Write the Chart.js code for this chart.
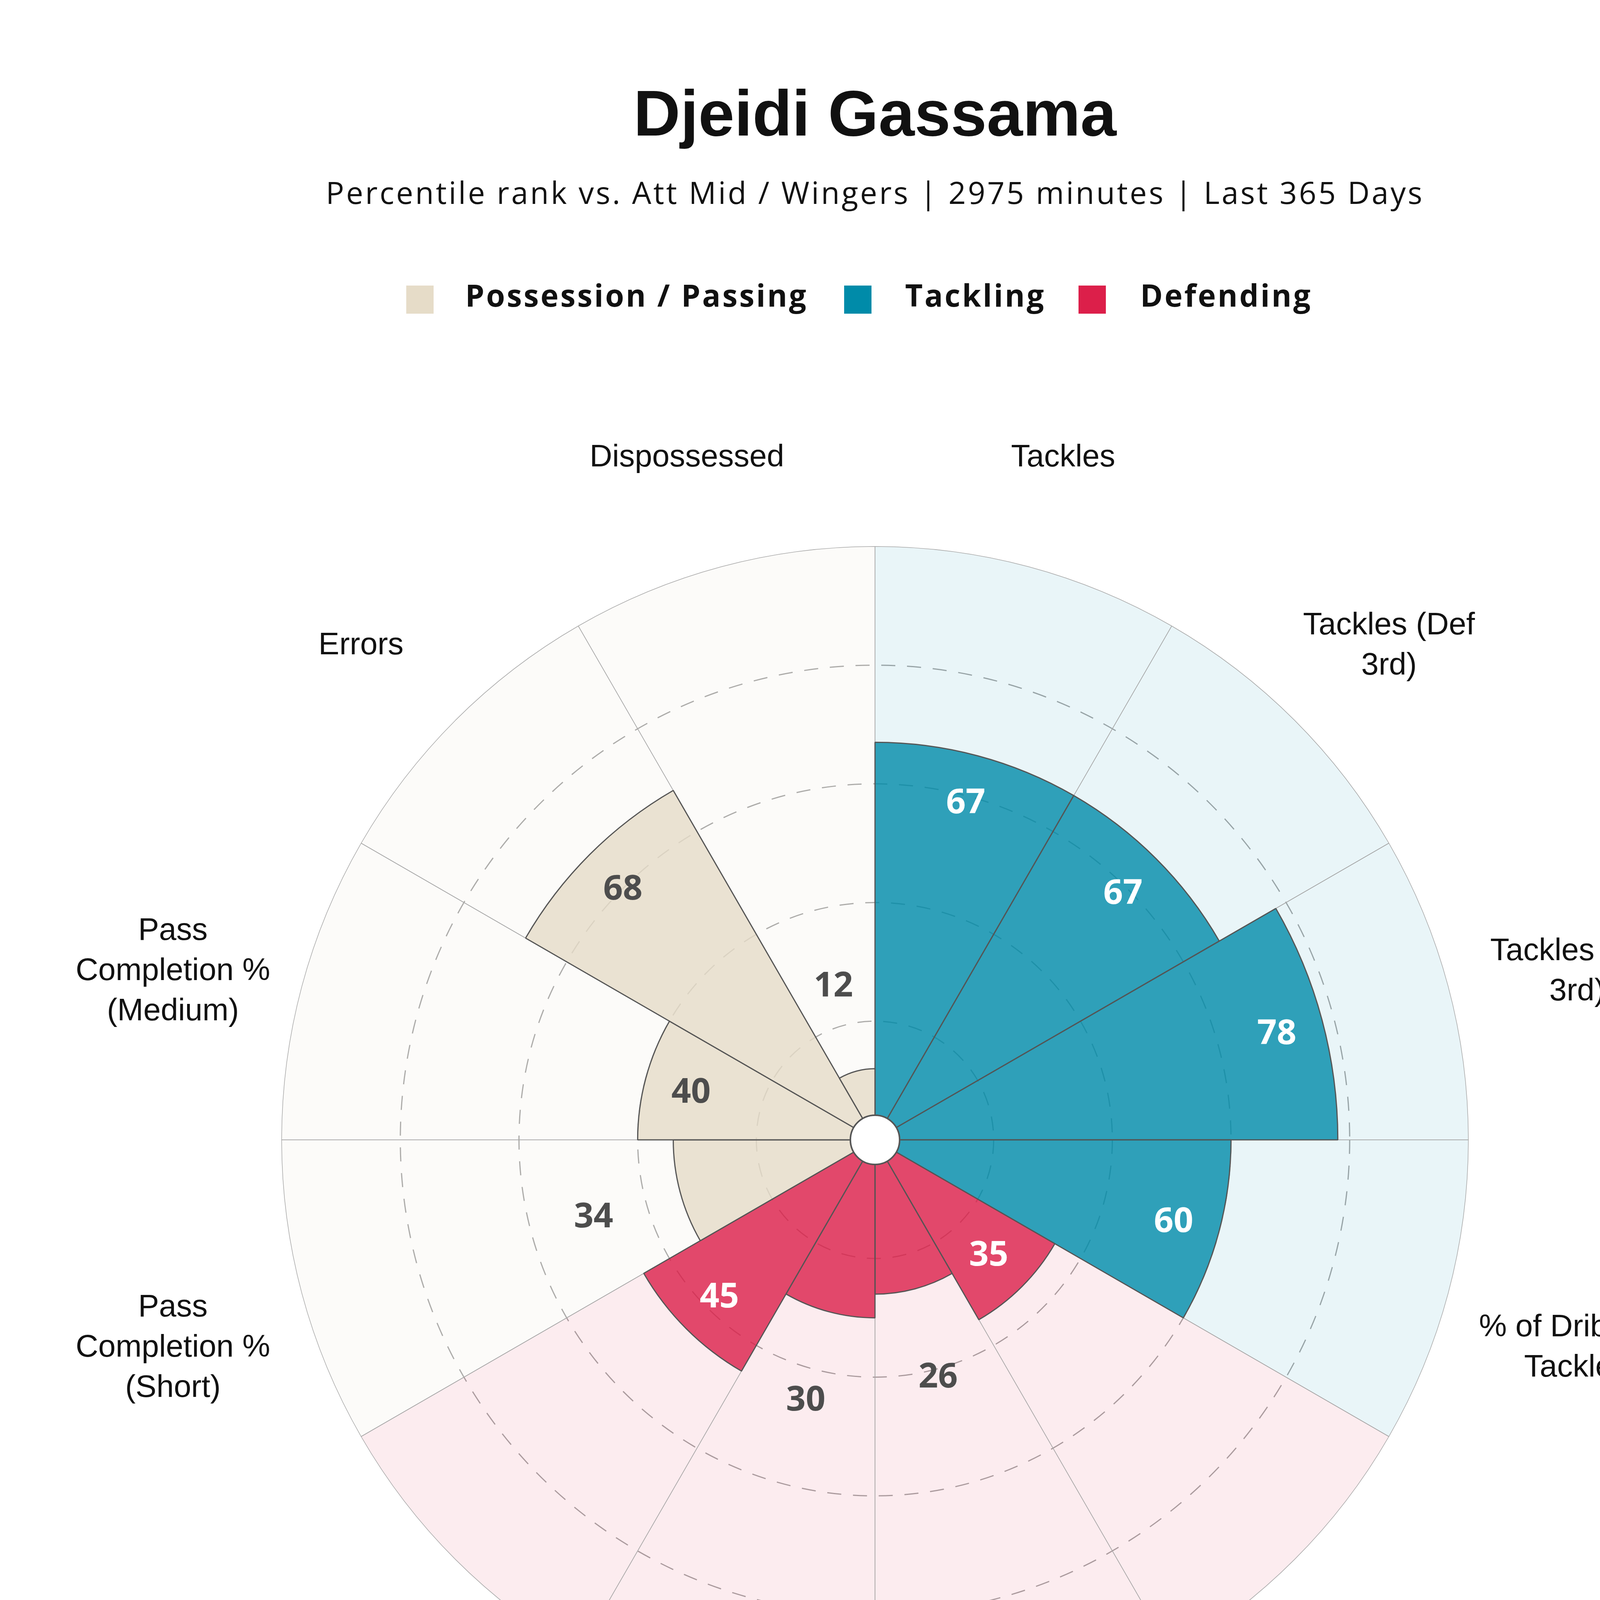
<!DOCTYPE html>
<html>
<head>
<meta charset="utf-8">
<script src="https://cdn.jsdelivr.net/npm/chart.js@4.4.0/dist/chart.umd.min.js"></script>
<style>
  html, body { margin:0; padding:0; background:#fff; }
  body { width:4480px; height:5120px; position:relative; overflow:hidden; }
  #c { position:absolute; left:0; top:0; width:4480px; height:5120px; }
  .t { position:absolute; white-space:nowrap; line-height:1; }
  #title { left:0; width:4480px; text-align:center; top:207px; font-family:"Liberation Sans", Arial, sans-serif; font-weight:bold; font-size:166px; color:#111; }
  #subtitle { left:0; width:4480px; text-align:center; top:453px; font-family:"Open Sans", sans-serif; font-size:78px; color:#111; letter-spacing:5px; }
  .lg { position:absolute; top:731px; height:72px; width:70px; }
  .lgt { position:absolute; top:716px; font-family:"Open Sans", sans-serif; font-weight:bold; font-size:78px; color:#111; letter-spacing:4.5px; line-height:1; white-space:nowrap; }
  #template { right:71px; top:4638px; font-family:"Open Sans", sans-serif; font-size:80px; color:#666; letter-spacing:4px; }
  #box { position:absolute; left:3303px; top:4772px; width:1137px; height:183px; background:#366a9f; }
  #boxt { position:absolute; left:3303px; width:1137px; text-align:center; top:4807px; font-family:"Open Sans", sans-serif; font-size:94px; color:#fff; letter-spacing:4px; line-height:1; white-space:nowrap; }
  #credit { right:51px; top:4995px; font-family:"Open Sans", sans-serif; font-size:74px; color:#555; letter-spacing:4px; }
  #logo { position:absolute; left:0; top:4800px; }
</style>
</head>
<body>
<canvas id="c" width="4480" height="5120"></canvas>
<div class="t" id="title">Djeidi Gassama</div>
<div class="t" id="subtitle">Percentile rank vs. Att Mid / Wingers | 2975 minutes | Last 365 Days</div>
<div id="legend"></div>
<div class="t" id="template">Template</div>
<div id="box"></div>
<div id="boxt">Defensive Midfielder</div>
<div class="t" id="credit">twitter: @fbcharts | Data: Opta/FBref</div>
<svg id="logo" width="1500" height="320" viewBox="0 4800 1500 320" xmlns="http://www.w3.org/2000/svg">
  <g fill="none" stroke="#5a5a5a">
    <rect x="85" y="4876" width="230" height="162" stroke-width="7"/>
    <line x1="199" y1="4876" x2="199" y2="5038" stroke-width="5"/>
    <ellipse cx="199" cy="4956" rx="30" ry="32" stroke-width="8"/>
  </g>
  <g fill="#5a5a5a" stroke="#5a5a5a" stroke-width="5" font-family="Liberation Sans, Arial, sans-serif" font-weight="bold" font-size="236">
    <text x="379" y="5041" textLength="42" lengthAdjust="spacingAndGlyphs">F</text>
    <text x="467" y="5041" textLength="63" lengthAdjust="spacingAndGlyphs">B</text>
    <text x="577" y="5041" textLength="57" lengthAdjust="spacingAndGlyphs">C</text>
    <text x="680" y="5041" textLength="63" lengthAdjust="spacingAndGlyphs">H</text>
    <text x="794" y="5041" textLength="62" lengthAdjust="spacingAndGlyphs">A</text>
    <text x="909" y="5041" textLength="65" lengthAdjust="spacingAndGlyphs">R</text>
    <text x="1014" y="5041" textLength="62" lengthAdjust="spacingAndGlyphs">T</text>
    <text x="1115" y="5041" textLength="62" lengthAdjust="spacingAndGlyphs">S</text>
  </g>
  <text x="1193" y="5047" fill="#5a5a5a" font-family="Liberation Sans, Arial, sans-serif" font-style="italic" font-size="84" textLength="199" lengthAdjust="spacingAndGlyphs">.com</text>
</svg>
<script>
// ---- data ----
const categories = [
  'Tackles',
  ['Tackles (Def', '3rd)'],
  ['Tackles (Mid', '3rd)'],
  ['% of Dribblers', 'Tackled'],
  'Interceptions',
  'Shots Blocked',
  'Clearances',
  ['% of Aerials', 'Won'],
  ['Pass', 'Completion %', '(Short)'],
  ['Pass', 'Completion %', '(Medium)'],
  'Errors',
  'Dispossessed'
];
const groups = ['Tackling','Tackling','Tackling','Tackling','Defending','Defending','Defending','Defending','Possession / Passing','Possession / Passing','Possession / Passing','Possession / Passing'];
const percentiles = [67, 67, 78, 60, 35, 26, 30, 45, 34, 40, 68, 12];
const fullScale = [100, 100, 100, 100, 100, 100, 100, 100, 100, 100, 100, 100];
const groupNames = ['Possession / Passing', 'Tackling', 'Defending'];
const groupColors = { 'Possession / Passing': [230,220,200], 'Tackling': [0,139,169], 'Defending': [220,31,74] };
const radialTicks = [0, 20, 40, 60, 80, 100];

// ---- legend (HTML) ----
const legendPos = [
  { box: 1040, text: 1191 },
  { box: 2161, text: 2317 },
  { box: 2761, text: 2919 }
];
const legendEl = document.getElementById('legend');
groupNames.forEach((g, i) => {
  const c = groupColors[g];
  const b = document.createElement('div');
  b.className = 'lg';
  b.style.left = legendPos[i].box + 'px';
  b.style.background = `rgb(${c[0]},${c[1]},${c[2]})`;
  legendEl.appendChild(b);
  const t = document.createElement('div');
  t.className = 'lgt';
  t.style.left = legendPos[i].text + 'px';
  t.textContent = g;
  legendEl.appendChild(t);
});

const rgba = (g, a) => { const c = groupColors[g]; return `rgba(${c[0]},${c[1]},${c[2]},${a})`; };

// ---- label plugin ----
const labelPlugin = {
  id: 'pizzaLabels',
  afterDatasetsDraw(chart) {
    const ctx = chart.ctx;
    const scale = chart.scales.r;
    const n = categories.length;
    const half = Math.PI / n;
    const R = scale.drawingArea;
    // centre hole
    ctx.save();
    ctx.beginPath();
    ctx.arc(scale.xCenter, scale.yCenter, R * 0.0415, 0, Math.PI * 2);
    ctx.fillStyle = '#ffffff';
    ctx.fill();
    ctx.lineWidth = 4;
    ctx.strokeStyle = '#555555';
    ctx.stroke();
    ctx.restore();

    // value labels
    ctx.save();
    ctx.textAlign = 'center';
    ctx.textBaseline = 'alphabetic';
    ctx.font = 'bold 88px "Open Sans", sans-serif';
    percentiles.forEach((v, i) => {
      const r = scale.getDistanceFromCenterForValue(v);
      const inside = v >= 35;
      const d = inside ? r - R * 0.079 : r + R * 0.151;
      const p = scale.getPointPosition(i, d, half);
      let color = '#4d4d4d';
      if (inside && groups[i] !== 'Possession / Passing') color = '#ffffff';
      ctx.fillStyle = color;
      ctx.fillText(String(v), p.x, p.y + 31);
    });
    ctx.restore();

    // category labels
    ctx.save();
    ctx.textAlign = 'center';
    ctx.textBaseline = 'alphabetic';
    ctx.font = '80px "Liberation Sans", Arial, sans-serif';
    ctx.fillStyle = '#111111';
    const lineH = 103;
    categories.forEach((lab, i) => {
      const lines = Array.isArray(lab) ? lab : [lab];
      const p = scale.getPointPosition(i, R * 1.225, half);
      const cy = p.y + 45;
      const y0 = cy - (lines.length - 1) * lineH / 2;
      lines.forEach((ln, k) => ctx.fillText(ln, p.x, y0 + k * lineH + 28));
    });
    ctx.restore();
  }
};

new Chart(document.getElementById('c'), {
  type: 'polarArea',
  data: {
    labels: categories,
    datasets: [
      {
        data: percentiles,
        backgroundColor: groups.map(g => rgba(g, 0.8)),
        borderColor: '#555555',
        borderWidth: 3
      },
      {
        data: fullScale,
        backgroundColor: groups.map(g => rgba(g, g === 'Possession / Passing' ? 0.1 : 0.085)),
        borderColor: '#a8a8a8',
        borderWidth: 1.5
      }
    ]
  },
  options: {
    responsive: false,
    devicePixelRatio: 1,
    animation: false,
    events: [],
    layout: { padding: { left: 721, right: 721, top: 1399, bottom: 683 } },
    plugins: { legend: { display: false }, tooltip: { enabled: false }, title: { display: false } },
    scales: {
      r: {
        min: radialTicks[0],
        max: radialTicks[radialTicks.length - 1],
        afterBuildTicks: (s) => { s.ticks = radialTicks.map(v => ({ value: v })); },
        ticks: { display: false, stepSize: 20 },
        pointLabels: { display: false },
        angleLines: { display: false },
        grid: {
          circular: true,
          color: (c) => (c.tick && (c.tick.value === 100 || c.tick.value === 0)) ? 'rgba(0,0,0,0)' : '#a6a6a6',
          lineWidth: 3
        },
        border: { dash: [36, 30] }
      }
    }
  },
  plugins: [labelPlugin]
});
</script>
</body>
</html>
